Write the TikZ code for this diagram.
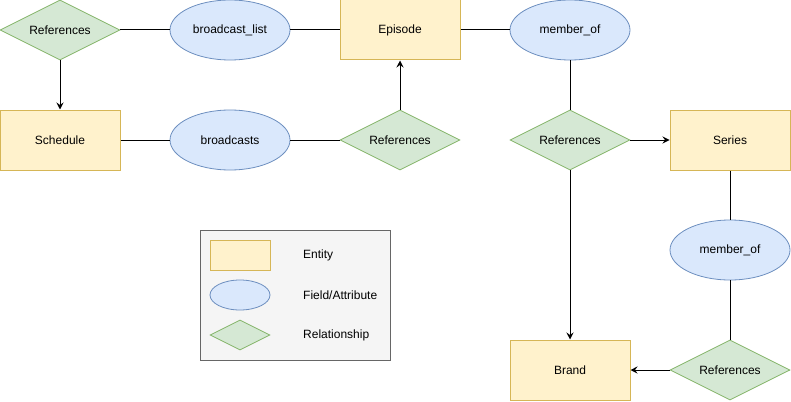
\documentclass[tikz,border=0pt]{standalone}
\usepackage{fontspec}
\setmainfont{Liberation Sans}
\usetikzlibrary{shapes.geometric,arrows.meta}
\definecolor{yfill}{HTML}{FFF2CC}\definecolor{ydraw}{HTML}{D6B656}
\definecolor{bfill}{HTML}{DAE8FC}\definecolor{bdraw}{HTML}{6C8EBF}
\definecolor{gfill}{HTML}{D5E8D4}\definecolor{gdraw}{HTML}{82B366}
\definecolor{lfill}{HTML}{F5F5F5}\definecolor{ldraw}{HTML}{666666}
\begin{document}
\begin{tikzpicture}[x=1pt,y=-1pt,
  font=\fontsize{12}{14}\selectfont,
  entity/.style={draw=ydraw,fill=yfill,line width=1pt,minimum width=120pt,minimum height=60pt,inner sep=0pt},
  attr/.style={ellipse,draw=bdraw,fill=bfill,line width=0.8pt,minimum width=120pt,minimum height=60pt,inner sep=0pt},
  rel/.style={diamond,aspect=2,draw=gdraw,fill=gfill,line width=0.8pt,minimum width=120pt,minimum height=60pt,inner sep=0pt},
  conn/.style={line width=1pt},
  arr/.style={line width=1pt,-{Stealth[length=7pt,width=7pt,inset=2.5pt]}}]
\useasboundingbox (0,0) rectangle (791,401);
% legend
\node[draw=ldraw,fill=lfill,line width=1pt,minimum width=190pt,minimum height=130pt,inner sep=0pt] (legend) at (295,295) {};
\node[entity,minimum width=60pt,minimum height=30pt] (lent) at (240,255) {};
\node[attr,minimum width=60pt,minimum height=30pt] (latt) at (240,295) {};
\node[rel,minimum width=60pt,minimum height=30pt] (lrel) at (240,335) {};
\node[anchor=west,inner sep=0pt] (tent) at (303,255) {Entity};
\node[anchor=west,inner sep=0pt] (tatt) at (303,295) {Field/Attribute};
\node[anchor=west,inner sep=0pt] (trel) at (303,335) {Relationship};
% nodes
\node[rel] (r1) at (60,30) {References};
\node[attr] (bl) at (230,30) {broadcast\_list};
\node[entity] (ep) at (400,30) {Episode};
\node[attr] (mo1) at (570,30) {member\_of};
\node[entity] (sch) at (60,140) {Schedule};
\node[attr] (bc) at (230,140) {broadcasts};
\node[rel] (r2) at (400,140) {References};
\node[rel] (r3) at (570,140) {References};
\node[entity] (ser) at (730,140) {Series};
\node[attr] (mo2) at (730,250) {member\_of};
\node[entity] (br) at (570,370) {Brand};
\node[rel] (r4) at (730,370) {References};
% connectors
\draw[conn] (r1) -- (bl);
\draw[conn] (bl) -- (ep);
\draw[conn] (ep) -- (mo1);
\draw[arr] (r1) -- (sch);
\draw[conn] (sch) -- (bc);
\draw[conn] (bc) -- (r2);
\draw[arr] (r2) -- (ep);
\draw[conn] (mo1) -- (r3);
\draw[arr] (r3) -- (ser);
\draw[arr] (r3) -- (br);
\draw[conn] (ser) -- (mo2);
\draw[conn] (mo2) -- (r4);
\draw[arr] (r4) -- (br);
\end{tikzpicture}
\end{document}
